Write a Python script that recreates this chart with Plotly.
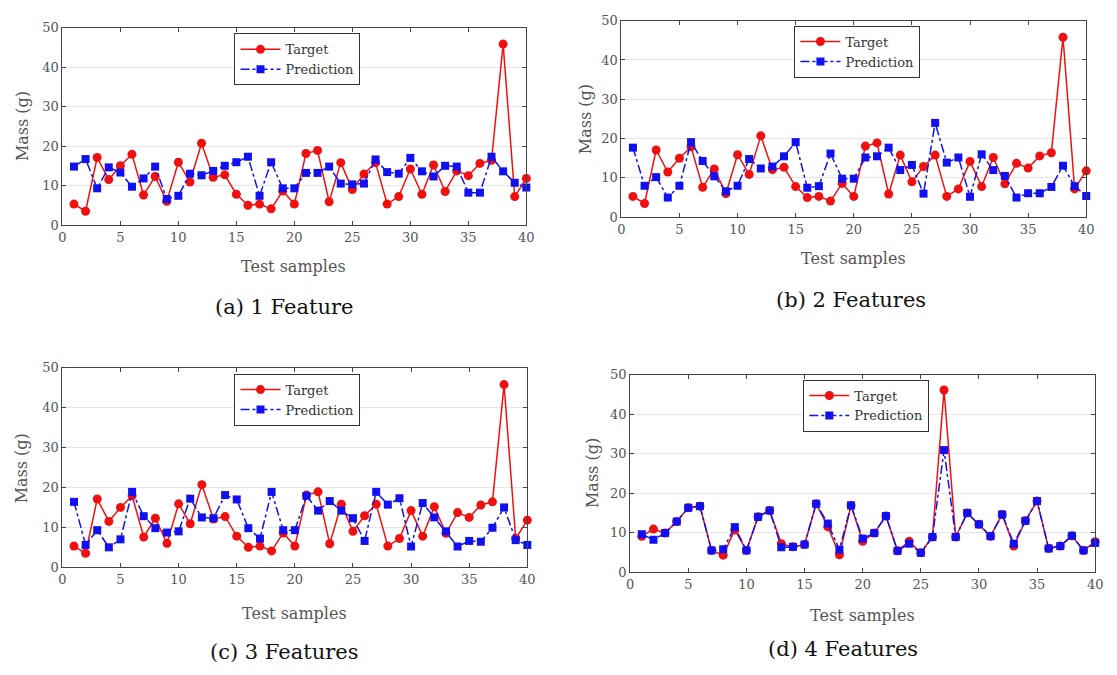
import plotly.graph_objects as go

samples = list(range(1, 41))

target_abc = [5.3, 3.5, 17.1, 11.5, 15.0, 17.9, 7.6, 12.3, 6.0, 15.9,
              10.9, 20.7, 12.1, 12.7, 7.8, 5.0, 5.3, 4.1, 8.6, 5.3,
              18.1, 18.9, 5.9, 15.8, 9.0, 12.9, 15.8, 5.3, 7.2, 14.2,
              7.8, 15.2, 8.5, 13.7, 12.5, 15.6, 16.4, 45.8, 7.2, 11.8]

pred_1 = [14.8, 16.7, 9.3, 14.6, 13.3, 9.7, 11.8, 14.8, 6.6, 7.4,
          13.0, 12.6, 13.7, 15.0, 15.9, 17.3, 7.4, 15.9, 9.3, 9.3,
          13.2, 13.2, 14.8, 10.5, 10.3, 10.5, 16.6, 13.4, 13.0, 17.0,
          13.6, 12.3, 15.0, 14.8, 8.2, 8.2, 17.3, 13.6, 10.7, 9.5]

pred_2 = [17.7, 8.0, 10.2, 5.0, 8.0, 19.1, 14.3, 10.4, 6.6, 8.0,
          14.8, 12.4, 12.9, 15.5, 19.1, 7.5, 7.9, 16.2, 9.8, 9.8,
          15.2, 15.5, 17.7, 12.0, 13.3, 6.0, 24.0, 13.9, 15.2, 5.2,
          16.0, 12.0, 10.5, 5.0, 6.1, 6.1, 7.7, 13.1, 7.9, 5.4]

pred_3 = [16.4, 5.6, 9.3, 5.0, 7.0, 18.9, 12.8, 9.8, 8.7, 9.0,
          17.2, 12.5, 12.3, 18.1, 17.0, 9.8, 7.2, 18.9, 9.3, 9.3,
          17.9, 14.2, 16.6, 14.2, 12.3, 6.6, 18.9, 15.7, 17.3, 5.2,
          16.1, 12.5, 9.0, 5.2, 6.6, 6.4, 9.9, 15.0, 6.8, 5.6]

target_d = [9.1, 10.9, 9.9, 12.8, 16.3, 16.7, 5.5, 4.3, 10.7, 5.5,
            14.0, 15.6, 7.2, 6.4, 7.0, 17.3, 11.5, 4.4, 16.9, 7.8,
            9.9, 14.2, 5.4, 7.8, 4.9, 8.9, 46.1, 8.9, 15.0, 12.1,
            9.1, 14.6, 6.6, 13.0, 18.0, 6.0, 6.6, 9.2, 5.5, 7.7]

pred_4 = [9.6, 8.2, 9.9, 12.8, 16.3, 16.7, 5.5, 5.8, 11.4, 5.5,
          14.0, 15.6, 6.3, 6.4, 7.0, 17.3, 12.3, 5.7, 16.9, 8.5,
          9.9, 14.2, 5.4, 7.2, 4.9, 8.9, 30.9, 8.9, 15.0, 12.1,
          9.1, 14.6, 7.2, 13.0, 18.0, 6.0, 6.6, 9.2, 5.5, 7.4]

x_ticks = [0, 5, 10, 15, 20, 25, 30, 35, 40]
y_ticks = [0, 10, 20, 30, 40, 50]
captions = ["(a) 1 Feature", "(b) 2 Features", "(c) 3 Features", "(d) 4 Features"]

W, H = 1117, 675
FONT = "DejaVu Serif"
RED = "#f01010"
BLUE = "#1010f0"

# panel boxes in pixels: (left, right, top, bottom)
boxes = [(59, 528, 21, 223), (624, 1094, 14, 215),
         (59, 529, 369, 573), (633, 1103, 376, 578)]
legend_pos = [(233, 27), (799, 19), (233, 375), (808, 381)]
xtitle_pos = [(293, 265), (859, 257), (294, 620), (868, 622)]
ytitle_pos = [(18, 122), (588, 115), (18, 472), (595, 477)]
caption_pos = [(283, 307), (856, 300), (283, 660), (848, 657)]

series = [(target_abc, pred_1), (target_abc, pred_2),
          (target_abc, pred_3), (target_d, pred_4)]

fig = go.Figure()
annotations = []
layout = {}
for i, (tgt, prd) in enumerate(series):
    n = i + 1
    xa = "x" if n == 1 else f"x{n}"
    ya = "y" if n == 1 else f"y{n}"
    lg = "legend" if n == 1 else f"legend{n}"
    fig.add_trace(go.Scatter(
        x=samples, y=tgt, mode="lines+markers", name="Target",
        line=dict(color=RED, width=1.5),
        marker=dict(symbol="circle", size=9, color=RED),
        xaxis=xa, yaxis=ya, legend=lg, cliponaxis=False))
    fig.add_trace(go.Scatter(
        x=samples, y=prd, mode="lines+markers", name="Prediction",
        line=dict(color=BLUE, width=1.5, dash="dashdot"),
        marker=dict(symbol="square", size=8, color=BLUE),
        xaxis=xa, yaxis=ya, legend=lg, cliponaxis=False))
    l, r, t, b = boxes[i]
    axcommon = dict(showline=True, linecolor="#444", linewidth=1, mirror="ticks",
                    ticks="inside", ticklen=4, tickcolor="#444",
                    tickfont=dict(family=FONT, size=13, color="#555"),
                    zeroline=False)
    layout["xaxis" if n == 1 else f"xaxis{n}"] = dict(
        domain=[l / W, r / W], range=[0, 40], tickvals=x_ticks,
        showgrid=False, anchor=ya, **axcommon)
    layout["yaxis" if n == 1 else f"yaxis{n}"] = dict(
        domain=[1 - b / H, 1 - t / H], range=[0, 50], tickvals=y_ticks,
        showgrid=True, gridcolor="#e6e6e6", gridwidth=1, anchor=xa, **axcommon)
    lx, ly = legend_pos[i]
    layout[lg] = dict(x=lx / W, y=1 - ly / H, xanchor="left", yanchor="top",
                      bgcolor="white", bordercolor="#333", borderwidth=1,
                      font=dict(family=FONT, size=13, color="#333"),
                      tracegroupgap=0, itemwidth=40)
    tx, ty = xtitle_pos[i]
    annotations.append(dict(x=tx / W, y=1 - ty / H, xref="paper", yref="paper",
                            xanchor="center", yanchor="middle",
                            text="Test samples", showarrow=False,
                            font=dict(family=FONT, size=16, color="#555")))
    yx, yy = ytitle_pos[i]
    annotations.append(dict(x=yx / W, y=1 - yy / H, xref="paper", yref="paper",
                            xanchor="center", yanchor="middle",
                            text="Mass (g)", showarrow=False, textangle=-90,
                            font=dict(family=FONT, size=16, color="#555")))
    cx, cy = caption_pos[i]
    annotations.append(dict(x=cx / W, y=1 - cy / H, xref="paper", yref="paper",
                            xanchor="center", yanchor="middle",
                            text=captions[i], showarrow=False,
                            font=dict(family=FONT, size=21, color="#111")))

fig.update_layout(width=W, height=H, margin=dict(l=0, r=0, t=0, b=0),
                  paper_bgcolor="white", plot_bgcolor="white",
                  annotations=annotations, **layout)

fig.write_html("out.html")
